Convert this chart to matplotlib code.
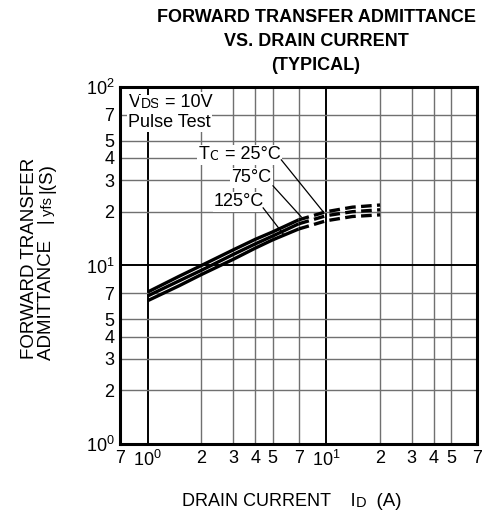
import matplotlib
matplotlib.use("Agg")
import matplotlib.pyplot as plt
from matplotlib.ticker import FixedLocator, FixedFormatter, NullLocator

plt.rcParams['font.family'] = ['Liberation Sans', 'DejaVu Sans']
plt.rcParams['mathtext.fontset'] = 'custom'
plt.rcParams['mathtext.rm'] = 'Liberation Sans'
plt.rcParams['mathtext.it'] = 'Liberation Sans'

# Data
id_solid = [1, 1.5, 2, 3, 4, 5, 7]
yfs_25_solid = [7.1, 8.7, 10.0, 12.2, 14.0, 15.4, 18.0]
yfs_75_solid = [6.75, 8.2, 9.4, 11.5, 13.2, 14.6, 17.1]
yfs_125_solid = [6.35, 7.7, 8.9, 10.8, 12.5, 13.9, 16.0]

id_dash = [7, 10, 14, 20]
yfs_25_dash = [18.0, 20.0, 21.2, 21.8]
yfs_75_dash = [17.1, 19.0, 20.0, 20.5]
yfs_125_dash = [16.0, 17.8, 18.8, 19.2]

x_ticks = [0.7, 1, 2, 3, 4, 5, 7, 10, 20, 30, 40, 50, 70]
x_labels = ['7', r'$\mathregular{10^0}$', '2', '3', '4', '5', '7', r'$\mathregular{10^1}$',
            '2', '3', '4', '5', '7']
y_ticks = [1, 2, 3, 4, 5, 7, 10, 20, 30, 40, 50, 70, 100]
y_labels = [r'$\mathregular{10^0}$', '2', '3', '4', '5', '7', r'$\mathregular{10^1}$',
            '2', '3', '4', '5', '7', r'$\mathregular{10^2}$']

fig = plt.figure(figsize=(4.84, 5.2), dpi=100)
ax = fig.add_axes([0.248, 0.146, 0.738, 0.687])
ax.set_xscale('log')
ax.set_yscale('log')
ax.set_xlim(0.7, 70)
ax.set_ylim(1, 100)

# grid
for xv in [1, 2, 3, 4, 5, 7, 10, 20, 30, 40, 50]:
    dec = xv in (1, 10)
    ax.axvline(xv, color='black' if dec else '#707070', lw=1.4 if dec else 1.0, zorder=1)
for yv in [2, 3, 4, 5, 7, 10, 20, 30, 40, 50, 70]:
    dec = yv in (10,)
    ax.axhline(yv, color='black' if dec else '#707070', lw=1.4 if dec else 1.0, zorder=1)

lw = 2.4
for ys, yd in [(yfs_25_solid, yfs_25_dash), (yfs_75_solid, yfs_75_dash), (yfs_125_solid, yfs_125_dash)]:
    ax.plot(id_solid, ys, color='black', lw=lw, solid_capstyle='butt', zorder=3)
    ax.plot(id_dash, yd, color='black', lw=lw, dashes=(3.2, 1.6), zorder=3)

ax.xaxis.set_major_locator(FixedLocator(x_ticks))
ax.xaxis.set_major_formatter(FixedFormatter(x_labels))
ax.xaxis.set_minor_locator(NullLocator())
ax.yaxis.set_major_locator(FixedLocator(y_ticks))
ax.yaxis.set_major_formatter(FixedFormatter(y_labels))
ax.yaxis.set_minor_locator(NullLocator())
ax.tick_params(axis='both', length=0, labelsize=13, pad=4)
for s in ax.spines.values():
    s.set_linewidth(2.2)
    s.set_zorder(5)


def chain(x, y, parts, transform, boxed=False, rotation=0):
    """Draw text pieces one after another; parts = [(string, size), ...]."""
    box = dict(facecolor='white', edgecolor='none', pad=1.0) if boxed else None
    s0, f0 = parts[0]
    if rotation == 0:
        t = ax.text(x, y, s0, fontsize=f0, ha='left', va='center', transform=transform,
                    bbox=box, zorder=4, clip_on=False)
    else:
        t = ax.text(x, y, s0, fontsize=f0, ha='center', va='bottom', rotation=90,
                    transform=transform, bbox=box, zorder=4, clip_on=False)
    for s, f in parts[1:]:
        if rotation == 0:
            t = ax.annotate(s, xy=(1, 0), xycoords=t, fontsize=f, ha='left', va='bottom',
                            bbox=box, zorder=4, annotation_clip=False)
        else:
            t = ax.annotate(s, xy=(1, 1), xycoords=t, fontsize=f, ha='right', va='bottom',
                            rotation=90, bbox=box, zorder=4, annotation_clip=False)
    return t


fs = 13
sub = 10
chain(0.78, 82, [('V', fs), ('DS', sub), (' = 10V', fs)], ax.transData, boxed=True)
ax.text(0.78, 63.5, 'Pulse Test', fontsize=fs, va='center', ha='left',
        bbox=dict(facecolor='white', edgecolor='none', pad=1.0), zorder=4)
chain(1.93, 41.6, [('T', fs), ('C', sub), (' = 25°C', fs)], ax.transData, boxed=True)
ax.text(2.93, 31.0, '75°C', fontsize=fs, va='center', ha='left',
        bbox=dict(facecolor='white', edgecolor='none', pad=1.0), zorder=4)
ax.text(2.35, 22.7, '125°C', fontsize=fs, va='center', ha='left',
        bbox=dict(facecolor='white', edgecolor='none', pad=1.0), zorder=4)

for (x0, y0), (x1, y1) in [((5.6, 39), (9.6, 20.0)), ((5.03, 27.9), (7.24, 18.7)), ((4.43, 21.0), (5.8, 14.8))]:
    ax.plot([x0, x1], [y0, y1], color='black', lw=0.9, zorder=4)

fig.text(0.653, 0.983, 'FORWARD TRANSFER ADMITTANCE\nVS. DRAIN CURRENT\n(TYPICAL)',
         ha='center', va='top', fontsize=13, fontweight='bold', linespacing=1.55)

chain(0.376, 0.035, [('DRAIN CURRENT    I', 13), ('D', 10.5), ('  (A)', 13.5)], fig.transFigure)

fig.text(0.061, 0.504, 'FORWARD TRANSFER', rotation=90, ha='center', va='center', fontsize=13.5)
chain(0.097, 0.307, [('ADMITTANCE   |', 13.5), (' yfs ', 10.5), ('|(S)', 13.5)], fig.transFigure,
      rotation=90)

fig.savefig('out.png', dpi=100)
